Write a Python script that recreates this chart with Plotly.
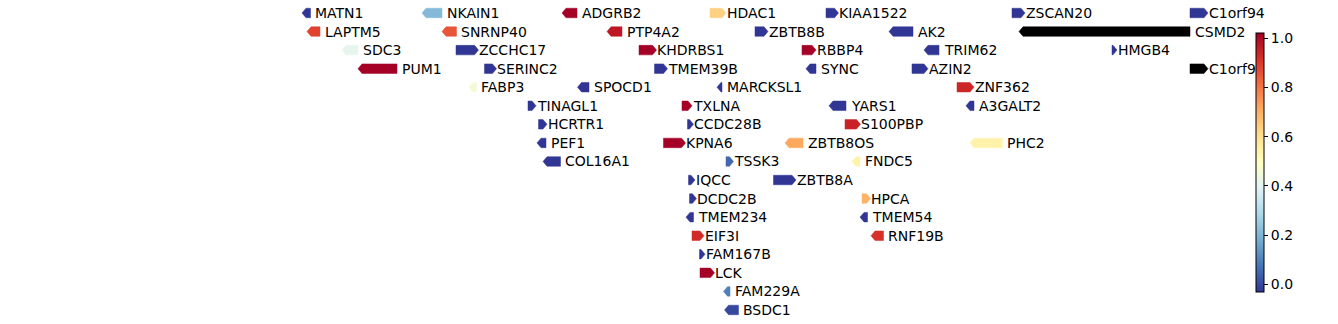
import plotly.graph_objects as go
from plotly.colors import sample_colorscale

# ---- data ----
genes = ["MATN1", "NKAIN1", "ADGRB2", "HDAC1", "KIAA1522", "ZSCAN20", "C1orf94",
         "LAPTM5", "SNRNP40", "PTP4A2", "ZBTB8B", "AK2", "CSMD2",
         "SDC3", "ZCCHC17", "KHDRBS1", "RBBP4", "TRIM62", "HMGB4",
         "PUM1", "SERINC2", "TMEM39B", "SYNC", "AZIN2", "C1orf9",
         "FABP3", "SPOCD1", "MARCKSL1", "ZNF362",
         "TINAGL1", "TXLNA", "YARS1", "A3GALT2",
         "HCRTR1", "CCDC28B", "S100PBP",
         "PEF1", "KPNA6", "ZBTB8OS", "PHC2",
         "COL16A1", "TSSK3", "FNDC5",
         "IQCC", "ZBTB8A",
         "DCDC2B", "HPCA",
         "TMEM234", "TMEM54",
         "EIF3I", "RNF19B",
         "FAM167B",
         "LCK",
         "FAM229A",
         "BSDC1"]
starts = [302, 422, 562, 710, 826, 1012, 1190,
          307, 442, 607, 755, 889, 1019,
          342, 456, 639, 802, 924, 1112,
          358, 484.5, 654.5, 806, 912, 1190,
          469, 577.5, 717, 957,
          528, 682, 829, 966,
          538.5, 687.5, 845,
          537, 663.5, 785, 970,
          543, 726, 852,
          688.5, 773.5,
          689.5, 862,
          686, 860,
          692, 871,
          699.5,
          700,
          723.5,
          724.5]
ends = [310.5, 442, 577, 726, 838.5, 1025, 1208,
        320, 456.5, 622, 768, 913, 1190,
        358, 478.5, 656.5, 816, 939, 1117,
        397, 496.5, 667.5, 816, 928, 1208,
        476.5, 589, 722, 974,
        536, 692, 846, 974,
        547, 693.5, 860.5,
        546, 685.5, 803, 1002.5,
        560.5, 733.5, 860,
        695, 796,
        696.5, 870.5,
        693.5, 867.5,
        704, 883.5,
        705,
        714.5,
        730,
        738.5]
strands = [-1, -1, -1, 1, 1, 1, 1,
           -1, -1, -1, 1, -1, -1,
           -1, 1, 1, 1, -1, 1,
           -1, 1, 1, -1, 1, 1,
           -1, -1, -1, 1,
           1, 1, -1, -1,
           1, 1, 1,
           -1, 1, -1, -1,
           -1, 1, -1,
           1, 1,
           1, 1,
           -1, -1,
           1, -1,
           1,
           1,
           -1,
           -1]
rows = [0, 0, 0, 0, 0, 0, 0,
        1, 1, 1, 1, 1, 1,
        2, 2, 2, 2, 2, 2,
        3, 3, 3, 3, 3, 3,
        4, 4, 4, 4,
        5, 5, 5, 5,
        6, 6, 6,
        7, 7, 7, 7,
        8, 8, 8,
        9, 9,
        10, 10,
        11, 11,
        12, 12,
        13,
        14,
        15,
        16]
values = [0.0, 0.23, 1.0, 0.63, 0.0, 0.0, 0.0,
          0.87, 0.84, 0.95, 0.0, 0.0, None,
          0.42, 0.0, 1.0, 1.0, 0.0, 0.0,
          1.0, 0.0, 0.0, 0.0, 0.0, None,
          0.46, 0.0, 0.0, 0.92,
          0.0, 1.0, 0.0, 0.0,
          0.0, 0.0, 0.93,
          0.0, 1.0, 0.71, 0.54,
          0.0, 0.08, 0.54,
          0.0, 0.0,
          0.0, 0.69,
          0.0, 0.0,
          0.91, 0.9,
          0.0,
          1.0,
          0.12,
          0.03]
cbar_ticks = [0.0, 0.2, 0.4, 0.6, 0.8, 1.0]

# ---- style ----
CSCALE = "RdYlBu_r"
CMIN, CMAX = -0.03, 1.023
HALF_H = 0.256   # half height of a gene in row units
HEAD = 4.0       # arrow head length in x units
FONT = dict(family="DejaVu Sans", size=14, color="black")

fig = go.Figure()
annotations = []
for name, s, e, st, r, v in zip(genes, starts, ends, strands, rows, values):
    if v is None:
        col = "black"
    else:
        col = sample_colorscale(CSCALE, [v])[0]
    head = min(HEAD, e - s)
    if st > 0:
        xs = [s, e - head, e, e - head, s, s]
        ys = [r - HALF_H, r - HALF_H, r, r + HALF_H, r + HALF_H, r - HALF_H]
        shift = 0.5
    else:
        xs = [e, s + head, s, s + head, e, e]
        ys = [r - HALF_H, r - HALF_H, r, r + HALF_H, r + HALF_H, r - HALF_H]
        shift = 4.5
    fig.add_trace(go.Scatter(x=xs, y=ys, mode="lines", fill="toself",
                             fillcolor=col, line=dict(color=col, width=0.5),
                             hoverinfo="text", text=name, showlegend=False))
    annotations.append(dict(x=e, y=r, xref="x", yref="y", text=name,
                            showarrow=False, xanchor="left", yanchor="middle",
                            xshift=shift, yshift=0, font=FONT,
                            borderpad=0, borderwidth=0))

# colorbar carrier
fig.add_trace(go.Scatter(
    x=[-100, -100], y=[-5, -5], mode="markers", showlegend=False, hoverinfo="skip",
    marker=dict(color=[CMIN, CMAX], colorscale=CSCALE, cmin=CMIN, cmax=CMAX,
                showscale=True,
                colorbar=dict(x=1256 / 1338, xanchor="left", xpad=0,
                              y=1 - 162.2 / 324, yanchor="middle", ypad=0,
                              len=259, lenmode="pixels",
                              thickness=8, thicknessmode="pixels",
                              outlinewidth=1, outlinecolor="black",
                              ticks="outside", ticklen=4, tickwidth=1,
                              tickcolor="black",
                              tickvals=cbar_ticks,
                              ticktext=[f"{t:.1f}" for t in cbar_ticks],
                              tickfont=FONT))))

fig.update_layout(
    width=1338, height=324,
    margin=dict(l=0, r=0, t=0, b=0),
    paper_bgcolor="white", plot_bgcolor="white",
    xaxis=dict(range=[0, 1338], visible=False, fixedrange=True),
    yaxis=dict(range=[16.757, -0.700], visible=False, fixedrange=True),
    annotations=annotations,
    showlegend=False,
)

fig.write_html("out.html")
